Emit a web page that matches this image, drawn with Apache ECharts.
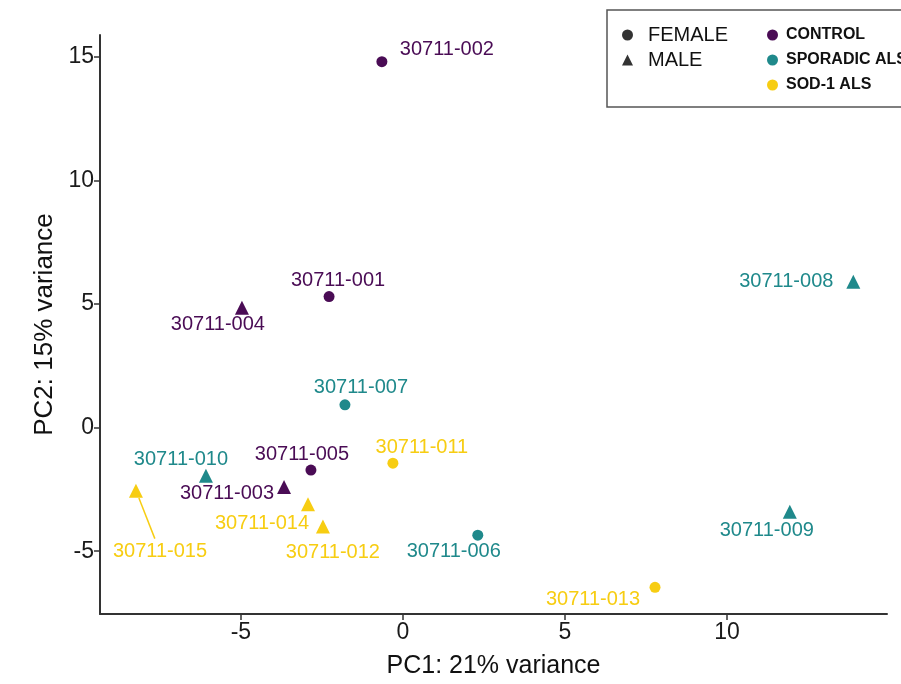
<!DOCTYPE html>
<html>
<head>
<meta charset="utf-8">
<script src="https://cdn.jsdelivr.net/npm/echarts@6/dist/echarts.min.js"></script>
<style>
  html, body { margin: 0; padding: 0; background: #fff; }
  #chart { width: 901px; height: 684px; }
</style>
</head>
<body>
<div id="chart"></div>
<script>
// Sample identifiers and their PCA scores
var sampleIds = ['30711-001', '30711-002', '30711-003', '30711-004', '30711-005',
                 '30711-006', '30711-007', '30711-008', '30711-009', '30711-010',
                 '30711-011', '30711-012', '30711-013', '30711-014', '30711-015'];
var groups = ['CONTROL', 'CONTROL', 'CONTROL', 'CONTROL', 'CONTROL',
              'SPORADIC ALS', 'SPORADIC ALS', 'SPORADIC ALS', 'SPORADIC ALS', 'SPORADIC ALS',
              'SOD-1 ALS', 'SOD-1 ALS', 'SOD-1 ALS', 'SOD-1 ALS', 'SOD-1 ALS'];
var sexes = ['FEMALE', 'FEMALE', 'MALE', 'MALE', 'FEMALE',
             'FEMALE', 'FEMALE', 'MALE', 'MALE', 'MALE',
             'FEMALE', 'MALE', 'FEMALE', 'MALE', 'MALE'];
var pc1 = [-2.28, -0.65, -3.67, -4.97, -2.84, 2.31, -1.79, 13.9, 11.94, -6.08, -0.31, -2.47, 7.78, -2.93, -8.24];
var pc2 = [5.3, 14.8, -2.4, 4.85, -1.72, -4.35, 0.92, 5.9, -3.4, -1.95, -1.44, -4.0, -6.46, -3.1, -2.55];

var groupNames = ['CONTROL', 'SPORADIC ALS', 'SOD-1 ALS'];
var sexNames = ['FEMALE', 'MALE'];
var xTicks = [-5, 0, 5, 10];
var yTicks = [-5, 0, 5, 10, 15];

// Styling
var groupColors = { 'CONTROL': '#4A0C55', 'SPORADIC ALS': '#1F898B', 'SOD-1 ALS': '#F7CD12' };
var sexSymbols = { 'FEMALE': 'circle', 'MALE': 'triangle' };
var sexSizes = { 'FEMALE': 11, 'MALE': 14 };

// Repelled label placement (pixel offset of each label centre from its point)
var labelOffsets = [[9, -16], [65, -12], [-57, 7], [-24, 17], [-9, -16],
                    [-24, 16], [16, -17], [-67, 0], [-23, 19], [-25, -16],
                    [29, -16], [10, 26], [-62, 12], [-46, 19], [24, 61]];
var leaderLabel = '30711-015';

var FONT = '"Liberation Sans", Arial, sans-serif';

var series = groupNames.map(function (g) {
  var data = [];
  for (var i = 0; i < sampleIds.length; i++) {
    if (groups[i] !== g) continue;
    data.push({
      name: sampleIds[i],
      value: [pc1[i], pc2[i]],
      symbol: sexSymbols[sexes[i]],
      symbolSize: sexSizes[sexes[i]],
      label: { offset: labelOffsets[i] }
    });
  }
  return {
    name: g,
    type: 'scatter',
    data: data,
    itemStyle: { color: groupColors[g], opacity: 1 },
    label: {
      show: true,
      position: 'inside',
      formatter: '{b}',
      color: groupColors[g],
      fontFamily: FONT,
      fontSize: 20,
      align: 'center',
      verticalAlign: 'middle'
    },
    emphasis: { disabled: true },
    z: 3
  };
});

// Shape-only entries for the sex key
sexNames.forEach(function (s) {
  series.push({
    name: s,
    type: 'scatter',
    data: [],
    symbol: sexSymbols[s],
    itemStyle: { color: '#000' }
  });
});

var chart = echarts.init(document.getElementById('chart'), null, { renderer: 'canvas' });

var option = {
  backgroundColor: '#fff',
  animation: false,
  grid: { left: 100, top: 35, right: 14, bottom: 62, containLabel: false },
  xAxis: {
    type: 'value',
    min: -9.35,
    max: 14.94,
    name: 'PC1: 21% variance',
    nameLocation: 'middle',
    nameGap: 40,
    nameTextStyle: { fontFamily: FONT, fontSize: 25, color: '#111' },
    axisLine: { show: true, onZero: false, lineStyle: { color: '#333', width: 2 } },
    axisTick: { show: true, length: 6, customValues: xTicks, lineStyle: { color: '#333', width: 1.5 } },
    axisLabel: { customValues: xTicks, fontFamily: FONT, fontSize: 23, color: '#1a1a1a', margin: 7 },
    splitLine: { show: false }
  },
  yAxis: {
    type: 'value',
    min: -7.54,
    max: 15.88,
    name: 'PC2: 15% variance',
    nameLocation: 'middle',
    nameGap: 42,
    nameRotate: 90,
    nameTextStyle: { fontFamily: FONT, fontSize: 26, color: '#111' },
    axisLine: { show: true, onZero: false, lineStyle: { color: '#333', width: 2 } },
    axisTick: { show: true, length: 6, customValues: yTicks, lineStyle: { color: '#333', width: 1.5 } },
    axisLabel: { customValues: yTicks, fontFamily: FONT, fontSize: 23, color: '#1a1a1a', margin: 6 },
    splitLine: { show: false }
  },
  legend: [
    {
      data: sexNames.map(function (s) { return { name: s, icon: sexSymbols[s] }; }),
      orient: 'vertical',
      left: 617,
      top: 20,
      itemWidth: 11,
      itemHeight: 11,
      itemGap: 5,
      selectedMode: false,
      textStyle: { fontFamily: FONT, fontSize: 20, color: '#111', lineHeight: 20, padding: [0, 0, 0, 10] }
    },
    {
      data: groupNames.map(function (g) { return { name: g, icon: 'circle' }; }),
      orient: 'vertical',
      left: 762,
      top: 20,
      itemWidth: 11,
      itemHeight: 11,
      itemGap: 5,
      selectedMode: false,
      textStyle: { fontFamily: FONT, fontSize: 16, fontWeight: 'bold', color: '#111', lineHeight: 20, padding: [0, 0, 0, 3] }
    }
  ],
  series: series
};

chart.setOption(option);

// Legend frame and the leader segment for the displaced label
var graphics = [{
  type: 'rect',
  shape: { x: 607, y: 10, width: 310, height: 97 },
  style: { fill: 'rgba(255,255,255,0)', stroke: '#555', lineWidth: 1.5 },
  z: 10
}];
var li = sampleIds.indexOf(leaderLabel);
if (li >= 0) {
  var p = chart.convertToPixel({ gridIndex: 0 }, [pc1[li], pc2[li]]);
  var off = labelOffsets[li];
  var len = Math.sqrt(off[0] * off[0] + off[1] * off[1]);
  var ux = off[0] / len, uy = off[1] / len;
  graphics.push({
    type: 'line',
    shape: { x1: p[0] + ux * 8, y1: p[1] + uy * 8, x2: p[0] + off[0] - ux * 14, y2: p[1] + off[1] - uy * 14 },
    style: { stroke: groupColors[groups[li]], lineWidth: 1.5 },
    z: 2
  });
}
chart.setOption({ graphic: graphics });
</script>
</body>
</html>
